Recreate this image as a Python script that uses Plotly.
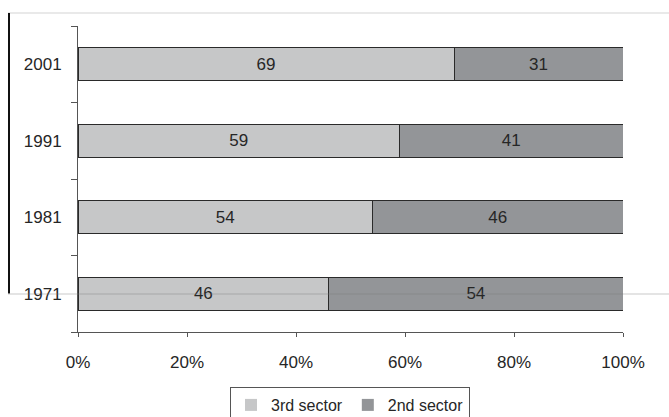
import plotly.graph_objects as go

years = ["1971", "1981", "1991", "2001"]
third_sector = [46, 54, 59, 69]
second_sector = [54, 46, 41, 31]
x_ticks = [0, 20, 40, 60, 80, 100]
x_tick_text = ["0%", "20%", "40%", "60%", "80%", "100%"]

light = "#c6c7c8"
dark = "#939598"
txt = "#262626"
font_family = "Liberation Sans, Arial, sans-serif"
fs = 17

W, H = 669, 417
ml, mr, mt, mb = 78, 46, 26, 85
pw, ph = W - ml - mr, H - mt - mb


def px_x(x):
    return (x - ml) / pw


def px_y(y):
    return (H - mb - y) / ph


fig = go.Figure()
series = [("3rd sector", third_sector, light), ("2nd sector", second_sector, dark)]
for name, vals, col in series:
    fig.add_trace(go.Bar(
        y=years, x=vals, name=name, orientation="h", showlegend=False,
        marker=dict(color=col, line=dict(color="#2a2a2a", width=1)),
        width=0.43,
        text=[str(v) for v in vals], textposition="inside",
        insidetextanchor="middle",
        textfont=dict(size=fs, color=txt, family=font_family),
    ))
# legend entries: plain filled swatches
for name, vals, col in series:
    fig.add_trace(go.Bar(
        y=[None], x=[None], name=name, orientation="h",
        marker=dict(color=col, line=dict(width=0)),
    ))

# frame lines around the chart area
fig.add_shape(type="line", xref="paper", yref="paper",
              x0=px_x(8), x1=px_x(669), y0=px_y(13), y1=px_y(13),
              line=dict(color="#e2e2e2", width=1.5), layer="above")
fig.add_shape(type="line", xref="paper", yref="paper",
              x0=px_x(9), x1=px_x(9), y0=px_y(13), y1=px_y(293.5),
              line=dict(color="#111111", width=2), layer="above")
fig.add_shape(type="line", xref="paper", yref="paper",
              x0=px_x(8), x1=px_x(669), y0=px_y(294), y1=px_y(294),
              line=dict(color="rgba(120,120,120,0.4)", width=1), layer="above")

fig.update_layout(
    width=W, height=H,
    margin=dict(l=ml, r=mr, t=mt, b=mb, autoexpand=False),
    barmode="stack",
    plot_bgcolor="white", paper_bgcolor="white",
    font=dict(family=font_family, size=fs, color=txt),
    uniformtext=dict(minsize=10, mode="show"),
    xaxis=dict(range=[0, 100], tickmode="array", tickvals=x_ticks,
               ticktext=x_tick_text, showgrid=False, zeroline=False,
               showline=True, linecolor="#555555", linewidth=1,
               ticks="outside", ticklen=4, tickcolor="#555555",
               ticklabelstandoff=11,
               tickfont=dict(size=fs, color=txt)),
    yaxis=dict(type="category", categoryorder="array", categoryarray=years,
               range=[-0.5, 3.5], tickson="boundaries",
               showgrid=False, zeroline=False,
               showline=True, linecolor="#555555", linewidth=1,
               ticks="outside", ticklen=6, tickcolor="#555555",
               ticklabelstandoff=12,
               tickfont=dict(size=fs, color=txt)),
    legend=dict(orientation="h", xref="container", x=350 / W, xanchor="center",
                yref="container", y=(H - 387) / H, yanchor="top",
                bordercolor="#555555", borderwidth=1,
                font=dict(size=16, color=txt), traceorder="normal",
                itemwidth=30, tracegroupgap=0),
    showlegend=True,
)

fig.write_html("out.html")
